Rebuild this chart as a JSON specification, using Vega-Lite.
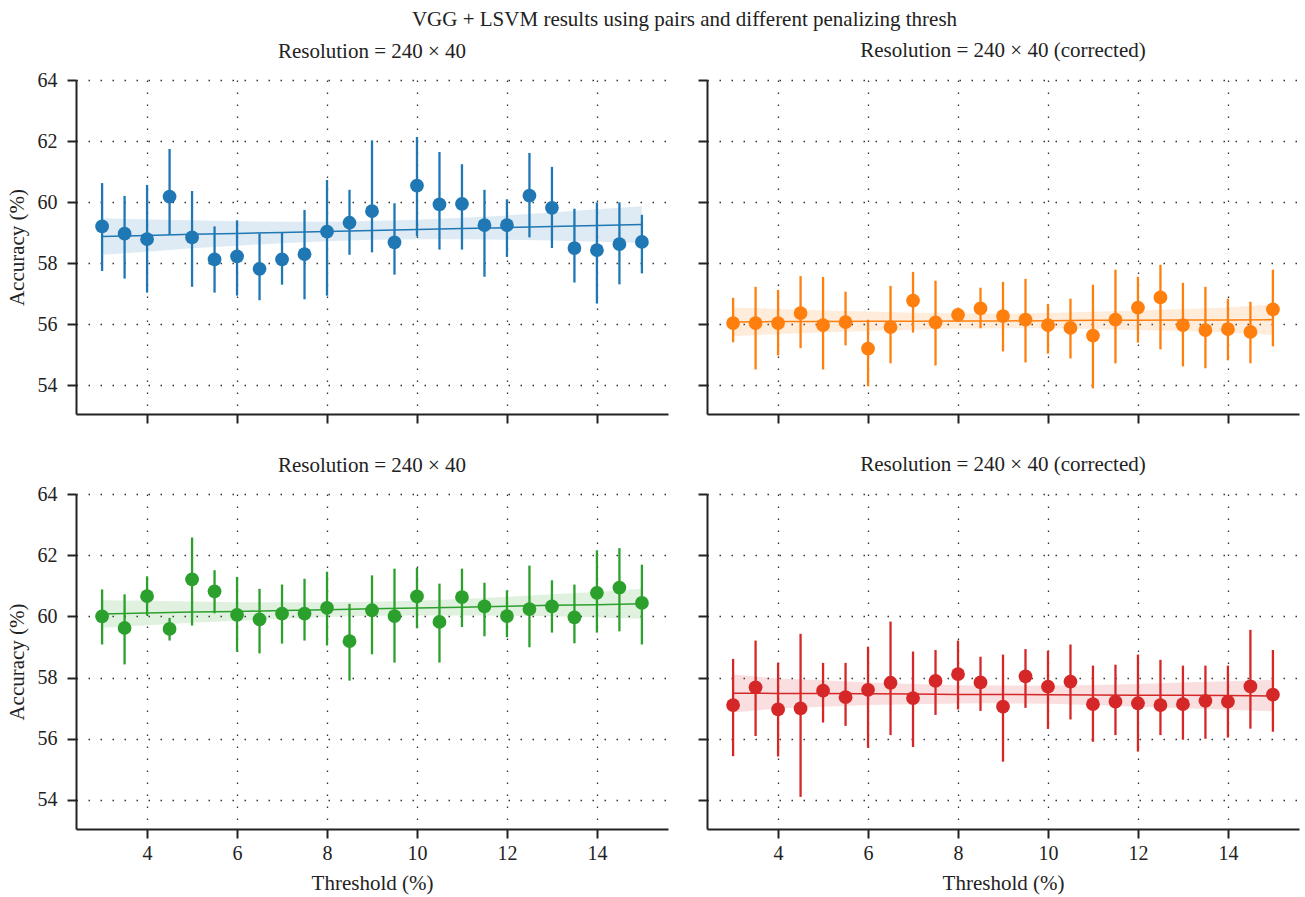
{
  "$schema": "https://vega.github.io/schema/vega-lite/v6.json",
  "padding": {"left": 6, "top": 9, "right": 5, "bottom": 5},
  "title": {"text": "VGG + LSVM results using pairs and different penalizing thresh", "fontSize": 21, "anchor": "middle", "offset": 10, "dx": 32},
  "config": {
    "font": "Liberation Serif",
    "view": {"stroke": null},
    "axis": {"domainColor": "#222", "domainWidth": 2, "tickColor": "#222", "tickWidth": 2, "tickSize": 9,
      "labelFont": "Liberation Serif", "labelFontSize": 20, "labelColor": "#222",
      "titleFont": "Liberation Serif", "titleFontSize": 21, "titleFontWeight": "normal", "titleColor": "#222", "titlePadding": 10,
      "grid": true, "gridColor": "#333", "gridDash": [1.5, 10.5], "gridWidth": 1.3},
    "axisX": {"labelPadding": 5, "titlePadding": 9},
    "axisY": {"labelPadding": 10, "titlePadding": 10},
    "title": {"font": "Liberation Serif", "fontSize": 21, "fontWeight": "normal", "color": "#222"}
  },
  "spacing": 30,
  "datasets": {
    "pts": [
      {"panel": "A", "threshold": 3, "acc": 59.20, "lo": 57.74, "hi": 60.62},
      {"panel": "A", "threshold": 3.5, "acc": 58.96, "lo": 57.49, "hi": 60.20},
      {"panel": "A", "threshold": 4, "acc": 58.78, "lo": 57.03, "hi": 60.56},
      {"panel": "A", "threshold": 4.5, "acc": 60.18, "lo": 58.92, "hi": 61.74},
      {"panel": "A", "threshold": 5, "acc": 58.84, "lo": 57.22, "hi": 60.36},
      {"panel": "A", "threshold": 5.5, "acc": 58.12, "lo": 57.03, "hi": 59.20},
      {"panel": "A", "threshold": 6, "acc": 58.22, "lo": 56.93, "hi": 59.40},
      {"panel": "A", "threshold": 6.5, "acc": 57.81, "lo": 56.78, "hi": 58.97},
      {"panel": "A", "threshold": 7, "acc": 58.12, "lo": 57.29, "hi": 59.01},
      {"panel": "A", "threshold": 7.5, "acc": 58.29, "lo": 56.81, "hi": 59.74},
      {"panel": "A", "threshold": 8, "acc": 59.03, "lo": 56.93, "hi": 60.72},
      {"panel": "A", "threshold": 8.5, "acc": 59.32, "lo": 58.27, "hi": 60.40},
      {"panel": "A", "threshold": 9, "acc": 59.70, "lo": 58.35, "hi": 62.02},
      {"panel": "A", "threshold": 9.5, "acc": 58.68, "lo": 57.62, "hi": 59.96},
      {"panel": "A", "threshold": 10, "acc": 60.54, "lo": 58.87, "hi": 62.13},
      {"panel": "A", "threshold": 10.5, "acc": 59.92, "lo": 58.44, "hi": 61.64},
      {"panel": "A", "threshold": 11, "acc": 59.94, "lo": 58.44, "hi": 61.24},
      {"panel": "A", "threshold": 11.5, "acc": 59.24, "lo": 57.55, "hi": 60.40},
      {"panel": "A", "threshold": 12, "acc": 59.24, "lo": 58.20, "hi": 60.09},
      {"panel": "A", "threshold": 12.5, "acc": 60.21, "lo": 58.84, "hi": 61.61},
      {"panel": "A", "threshold": 13, "acc": 59.81, "lo": 58.49, "hi": 61.15},
      {"panel": "A", "threshold": 13.5, "acc": 58.49, "lo": 57.36, "hi": 59.78},
      {"panel": "A", "threshold": 14, "acc": 58.42, "lo": 56.67, "hi": 59.99},
      {"panel": "A", "threshold": 14.5, "acc": 58.62, "lo": 57.30, "hi": 59.99},
      {"panel": "A", "threshold": 15, "acc": 58.69, "lo": 57.66, "hi": 59.58},
      {"panel": "B", "threshold": 3, "acc": 56.03, "lo": 55.40, "hi": 56.86},
      {"panel": "B", "threshold": 3.5, "acc": 56.03, "lo": 54.51, "hi": 57.22},
      {"panel": "B", "threshold": 4, "acc": 56.03, "lo": 54.97, "hi": 57.12},
      {"panel": "B", "threshold": 4.5, "acc": 56.36, "lo": 55.21, "hi": 57.57},
      {"panel": "B", "threshold": 5, "acc": 55.96, "lo": 54.51, "hi": 57.54},
      {"panel": "B", "threshold": 5.5, "acc": 56.06, "lo": 55.30, "hi": 57.06},
      {"panel": "B", "threshold": 6, "acc": 55.19, "lo": 53.96, "hi": 56.14},
      {"panel": "B", "threshold": 6.5, "acc": 55.90, "lo": 54.71, "hi": 57.25},
      {"panel": "B", "threshold": 7, "acc": 56.77, "lo": 55.72, "hi": 57.71},
      {"panel": "B", "threshold": 7.5, "acc": 56.05, "lo": 54.64, "hi": 57.42},
      {"panel": "B", "threshold": 8, "acc": 56.30, "lo": 56.11, "hi": 56.54},
      {"panel": "B", "threshold": 8.5, "acc": 56.51, "lo": 55.86, "hi": 57.19},
      {"panel": "B", "threshold": 9, "acc": 56.26, "lo": 55.10, "hi": 57.38},
      {"panel": "B", "threshold": 9.5, "acc": 56.14, "lo": 54.74, "hi": 57.48},
      {"panel": "B", "threshold": 10, "acc": 55.96, "lo": 55.03, "hi": 56.66},
      {"panel": "B", "threshold": 10.5, "acc": 55.87, "lo": 54.87, "hi": 56.83},
      {"panel": "B", "threshold": 11, "acc": 55.62, "lo": 53.89, "hi": 57.29},
      {"panel": "B", "threshold": 11.5, "acc": 56.14, "lo": 54.71, "hi": 57.78},
      {"panel": "B", "threshold": 12, "acc": 56.54, "lo": 55.39, "hi": 57.55},
      {"panel": "B", "threshold": 12.5, "acc": 56.87, "lo": 55.17, "hi": 57.94},
      {"panel": "B", "threshold": 13, "acc": 55.96, "lo": 54.61, "hi": 57.35},
      {"panel": "B", "threshold": 13.5, "acc": 55.80, "lo": 54.55, "hi": 57.22},
      {"panel": "B", "threshold": 14, "acc": 55.83, "lo": 54.81, "hi": 56.83},
      {"panel": "B", "threshold": 14.5, "acc": 55.74, "lo": 54.71, "hi": 56.73},
      {"panel": "B", "threshold": 15, "acc": 56.48, "lo": 55.27, "hi": 57.78},
      {"panel": "C", "threshold": 3, "acc": 60.00, "lo": 59.08, "hi": 60.88},
      {"panel": "C", "threshold": 3.5, "acc": 59.62, "lo": 58.43, "hi": 60.72},
      {"panel": "C", "threshold": 4, "acc": 60.66, "lo": 60.03, "hi": 61.31},
      {"panel": "C", "threshold": 4.5, "acc": 59.59, "lo": 59.21, "hi": 59.95},
      {"panel": "C", "threshold": 5, "acc": 61.21, "lo": 59.70, "hi": 62.58},
      {"panel": "C", "threshold": 5.5, "acc": 60.82, "lo": 60.10, "hi": 61.51},
      {"panel": "C", "threshold": 6, "acc": 60.05, "lo": 58.85, "hi": 61.29},
      {"panel": "C", "threshold": 6.5, "acc": 59.90, "lo": 58.79, "hi": 60.90},
      {"panel": "C", "threshold": 7, "acc": 60.09, "lo": 59.11, "hi": 61.04},
      {"panel": "C", "threshold": 7.5, "acc": 60.09, "lo": 59.21, "hi": 61.23},
      {"panel": "C", "threshold": 8, "acc": 60.28, "lo": 59.05, "hi": 61.46},
      {"panel": "C", "threshold": 8.5, "acc": 59.19, "lo": 57.90, "hi": 60.41},
      {"panel": "C", "threshold": 9, "acc": 60.20, "lo": 58.76, "hi": 61.34},
      {"panel": "C", "threshold": 9.5, "acc": 60.01, "lo": 58.49, "hi": 61.56},
      {"panel": "C", "threshold": 10, "acc": 60.65, "lo": 59.61, "hi": 61.59},
      {"panel": "C", "threshold": 10.5, "acc": 59.82, "lo": 58.49, "hi": 61.07},
      {"panel": "C", "threshold": 11, "acc": 60.63, "lo": 59.65, "hi": 61.56},
      {"panel": "C", "threshold": 11.5, "acc": 60.33, "lo": 59.35, "hi": 61.10},
      {"panel": "C", "threshold": 12, "acc": 60.01, "lo": 59.32, "hi": 60.85},
      {"panel": "C", "threshold": 12.5, "acc": 60.24, "lo": 58.99, "hi": 61.66},
      {"panel": "C", "threshold": 13, "acc": 60.33, "lo": 59.47, "hi": 61.18},
      {"panel": "C", "threshold": 13.5, "acc": 59.97, "lo": 59.12, "hi": 61.04},
      {"panel": "C", "threshold": 14, "acc": 60.77, "lo": 59.47, "hi": 62.16},
      {"panel": "C", "threshold": 14.5, "acc": 60.94, "lo": 59.51, "hi": 62.23},
      {"panel": "C", "threshold": 15, "acc": 60.44, "lo": 59.08, "hi": 61.69},
      {"panel": "D", "threshold": 3, "acc": 57.10, "lo": 55.43, "hi": 58.61},
      {"panel": "D", "threshold": 3.5, "acc": 57.68, "lo": 56.09, "hi": 59.21},
      {"panel": "D", "threshold": 4, "acc": 56.96, "lo": 55.42, "hi": 58.48},
      {"panel": "D", "threshold": 4.5, "acc": 56.99, "lo": 54.10, "hi": 59.43},
      {"panel": "D", "threshold": 5, "acc": 57.57, "lo": 56.53, "hi": 58.48},
      {"panel": "D", "threshold": 5.5, "acc": 57.36, "lo": 56.42, "hi": 58.48},
      {"panel": "D", "threshold": 6, "acc": 57.60, "lo": 55.71, "hi": 59.01},
      {"panel": "D", "threshold": 6.5, "acc": 57.83, "lo": 56.12, "hi": 59.83},
      {"panel": "D", "threshold": 7, "acc": 57.33, "lo": 55.73, "hi": 58.85},
      {"panel": "D", "threshold": 7.5, "acc": 57.89, "lo": 56.78, "hi": 58.90},
      {"panel": "D", "threshold": 8, "acc": 58.11, "lo": 56.96, "hi": 59.21},
      {"panel": "D", "threshold": 8.5, "acc": 57.84, "lo": 56.91, "hi": 58.68},
      {"panel": "D", "threshold": 9, "acc": 57.05, "lo": 55.25, "hi": 58.75},
      {"panel": "D", "threshold": 9.5, "acc": 58.04, "lo": 57.01, "hi": 58.93},
      {"panel": "D", "threshold": 10, "acc": 57.70, "lo": 56.32, "hi": 58.88},
      {"panel": "D", "threshold": 10.5, "acc": 57.87, "lo": 56.63, "hi": 59.08},
      {"panel": "D", "threshold": 11, "acc": 57.13, "lo": 55.90, "hi": 58.39},
      {"panel": "D", "threshold": 11.5, "acc": 57.21, "lo": 56.12, "hi": 58.42},
      {"panel": "D", "threshold": 12, "acc": 57.16, "lo": 55.58, "hi": 58.75},
      {"panel": "D", "threshold": 12.5, "acc": 57.10, "lo": 56.12, "hi": 58.58},
      {"panel": "D", "threshold": 13, "acc": 57.13, "lo": 55.97, "hi": 58.39},
      {"panel": "D", "threshold": 13.5, "acc": 57.24, "lo": 56.00, "hi": 58.39},
      {"panel": "D", "threshold": 14, "acc": 57.21, "lo": 56.04, "hi": 58.39},
      {"panel": "D", "threshold": 14.5, "acc": 57.71, "lo": 56.33, "hi": 59.56},
      {"panel": "D", "threshold": 15, "acc": 57.44, "lo": 56.23, "hi": 58.90}
    ],
    "fit": [
      {"panel": "A", "threshold": 3, "fit": 58.87, "lower": 58.27, "upper": 59.47},
      {"panel": "A", "threshold": 4, "fit": 58.90, "lower": 58.37, "upper": 59.43},
      {"panel": "A", "threshold": 5, "fit": 58.94, "lower": 58.48, "upper": 59.40},
      {"panel": "A", "threshold": 6, "fit": 58.97, "lower": 58.57, "upper": 59.37},
      {"panel": "A", "threshold": 7, "fit": 59.00, "lower": 58.65, "upper": 59.35},
      {"panel": "A", "threshold": 8, "fit": 59.03, "lower": 58.71, "upper": 59.35},
      {"panel": "A", "threshold": 9, "fit": 59.07, "lower": 58.76, "upper": 59.38},
      {"panel": "A", "threshold": 10, "fit": 59.10, "lower": 58.78, "upper": 59.42},
      {"panel": "A", "threshold": 11, "fit": 59.13, "lower": 58.78, "upper": 59.48},
      {"panel": "A", "threshold": 12, "fit": 59.16, "lower": 58.76, "upper": 59.56},
      {"panel": "A", "threshold": 13, "fit": 59.20, "lower": 58.74, "upper": 59.66},
      {"panel": "A", "threshold": 14, "fit": 59.23, "lower": 58.70, "upper": 59.76},
      {"panel": "A", "threshold": 15, "fit": 59.26, "lower": 58.66, "upper": 59.86},
      {"panel": "B", "threshold": 3, "fit": 56.07, "lower": 55.60, "upper": 56.54},
      {"panel": "B", "threshold": 4, "fit": 56.08, "lower": 55.67, "upper": 56.49},
      {"panel": "B", "threshold": 5, "fit": 56.08, "lower": 55.72, "upper": 56.44},
      {"panel": "B", "threshold": 6, "fit": 56.09, "lower": 55.77, "upper": 56.41},
      {"panel": "B", "threshold": 7, "fit": 56.09, "lower": 55.81, "upper": 56.37},
      {"panel": "B", "threshold": 8, "fit": 56.10, "lower": 55.85, "upper": 56.35},
      {"panel": "B", "threshold": 9, "fit": 56.10, "lower": 55.86, "upper": 56.34},
      {"panel": "B", "threshold": 10, "fit": 56.11, "lower": 55.86, "upper": 56.36},
      {"panel": "B", "threshold": 11, "fit": 56.12, "lower": 55.84, "upper": 56.40},
      {"panel": "B", "threshold": 12, "fit": 56.12, "lower": 55.80, "upper": 56.44},
      {"panel": "B", "threshold": 13, "fit": 56.13, "lower": 55.77, "upper": 56.49},
      {"panel": "B", "threshold": 14, "fit": 56.13, "lower": 55.72, "upper": 56.54},
      {"panel": "B", "threshold": 15, "fit": 56.14, "lower": 55.64, "upper": 56.64},
      {"panel": "C", "threshold": 3, "fit": 60.08, "lower": 59.63, "upper": 60.53},
      {"panel": "C", "threshold": 4, "fit": 60.11, "lower": 59.71, "upper": 60.51},
      {"panel": "C", "threshold": 5, "fit": 60.14, "lower": 59.79, "upper": 60.49},
      {"panel": "C", "threshold": 6, "fit": 60.16, "lower": 59.86, "upper": 60.46},
      {"panel": "C", "threshold": 7, "fit": 60.19, "lower": 59.92, "upper": 60.46},
      {"panel": "C", "threshold": 8, "fit": 60.22, "lower": 59.98, "upper": 60.46},
      {"panel": "C", "threshold": 9, "fit": 60.25, "lower": 60.02, "upper": 60.48},
      {"panel": "C", "threshold": 10, "fit": 60.27, "lower": 60.03, "upper": 60.51},
      {"panel": "C", "threshold": 11, "fit": 60.30, "lower": 60.03, "upper": 60.57},
      {"panel": "C", "threshold": 12, "fit": 60.33, "lower": 60.02, "upper": 60.64},
      {"panel": "C", "threshold": 13, "fit": 60.36, "lower": 60.00, "upper": 60.72},
      {"panel": "C", "threshold": 14, "fit": 60.38, "lower": 59.96, "upper": 60.80},
      {"panel": "C", "threshold": 15, "fit": 60.41, "lower": 59.92, "upper": 60.90},
      {"panel": "D", "threshold": 3, "fit": 57.49, "lower": 56.86, "upper": 58.10},
      {"panel": "D", "threshold": 4, "fit": 57.48, "lower": 56.99, "upper": 57.97},
      {"panel": "D", "threshold": 5, "fit": 57.48, "lower": 57.05, "upper": 57.91},
      {"panel": "D", "threshold": 6, "fit": 57.47, "lower": 57.10, "upper": 57.84},
      {"panel": "D", "threshold": 7, "fit": 57.46, "lower": 57.13, "upper": 57.79},
      {"panel": "D", "threshold": 8, "fit": 57.45, "lower": 57.15, "upper": 57.75},
      {"panel": "D", "threshold": 9, "fit": 57.45, "lower": 57.16, "upper": 57.74},
      {"panel": "D", "threshold": 10, "fit": 57.44, "lower": 57.14, "upper": 57.74},
      {"panel": "D", "threshold": 11, "fit": 57.43, "lower": 57.10, "upper": 57.76},
      {"panel": "D", "threshold": 12, "fit": 57.42, "lower": 57.05, "upper": 57.79},
      {"panel": "D", "threshold": 13, "fit": 57.42, "lower": 57.00, "upper": 57.84},
      {"panel": "D", "threshold": 14, "fit": 57.41, "lower": 56.95, "upper": 57.88},
      {"panel": "D", "threshold": 15, "fit": 57.40, "lower": 56.90, "upper": 57.92}
    ]
  },
  "vconcat": [
    {"spacing": 29, "hconcat": [
      {"width": 592, "height": 334, "title": {"text": "Resolution = 240 × 40", "offset": 8, "frame": "group"},
       "layer": [
        {"data": {"name": "fit"}, "transform": [{"filter": "datum.panel === 'A'"}], "mark": {"type": "area", "opacity": 0.15},
         "encoding": {
          "x": {"field": "threshold", "type": "quantitative", "scale": {"domain": [2.42, 15.58], "nice": false, "zero": false}, "axis": {"values": [4, 6, 8, 10, 12, 14], "labels": false, "title": null}},
          "y": {"field": "lower", "type": "quantitative", "scale": {"domain": [53.05, 64], "nice": false, "zero": false}, "axis": {"values": [54, 56, 58, 60, 62, 64], "title": "Accuracy (%)"}},
          "y2": {"field": "upper"},
          "color": {"field": "panel", "type": "nominal", "scale": {"domain": ["A", "B", "C", "D"], "range": ["#1f77b4", "#ff7f0e", "#2ca02c", "#d62728"]}, "legend": null}}},
        {"data": {"name": "fit"}, "transform": [{"filter": "datum.panel === 'A'"}], "mark": {"type": "line", "strokeWidth": 1.5},
         "encoding": {"x": {"field": "threshold", "type": "quantitative"}, "y": {"field": "fit", "type": "quantitative"}, "color": {"field": "panel", "type": "nominal", "legend": null}}},
        {"data": {"name": "pts"}, "transform": [{"filter": "datum.panel === 'A'"}], "mark": {"type": "rule", "strokeWidth": 2.3},
         "encoding": {"x": {"field": "threshold", "type": "quantitative"}, "y": {"field": "lo", "type": "quantitative"}, "y2": {"field": "hi"}, "color": {"field": "panel", "type": "nominal", "legend": null}}},
        {"data": {"name": "pts"}, "transform": [{"filter": "datum.panel === 'A'"}], "mark": {"type": "circle", "size": 190, "opacity": 1},
         "encoding": {"x": {"field": "threshold", "type": "quantitative"}, "y": {"field": "acc", "type": "quantitative"}, "color": {"field": "panel", "type": "nominal", "legend": null}}}
       ]},
      {"width": 592, "height": 334, "title": {"text": "Resolution = 240 × 40 (corrected)", "offset": 18, "frame": "group"},
       "layer": [
        {"data": {"name": "fit"}, "transform": [{"filter": "datum.panel === 'B'"}], "mark": {"type": "area", "opacity": 0.15},
         "encoding": {
          "x": {"field": "threshold", "type": "quantitative", "scale": {"domain": [2.42, 15.58], "nice": false, "zero": false}, "axis": {"values": [4, 6, 8, 10, 12, 14], "labels": false, "title": null}},
          "y": {"field": "lower", "type": "quantitative", "scale": {"domain": [53.05, 64], "nice": false, "zero": false}, "axis": {"values": [54, 56, 58, 60, 62, 64], "labels": false, "title": null}},
          "y2": {"field": "upper"},
          "color": {"field": "panel", "type": "nominal", "legend": null}}},
        {"data": {"name": "fit"}, "transform": [{"filter": "datum.panel === 'B'"}], "mark": {"type": "line", "strokeWidth": 1.5},
         "encoding": {"x": {"field": "threshold", "type": "quantitative"}, "y": {"field": "fit", "type": "quantitative"}, "color": {"field": "panel", "type": "nominal", "legend": null}}},
        {"data": {"name": "pts"}, "transform": [{"filter": "datum.panel === 'B'"}], "mark": {"type": "rule", "strokeWidth": 2.3},
         "encoding": {"x": {"field": "threshold", "type": "quantitative"}, "y": {"field": "lo", "type": "quantitative"}, "y2": {"field": "hi"}, "color": {"field": "panel", "type": "nominal", "legend": null}}},
        {"data": {"name": "pts"}, "transform": [{"filter": "datum.panel === 'B'"}], "mark": {"type": "circle", "size": 190, "opacity": 1},
         "encoding": {"x": {"field": "threshold", "type": "quantitative"}, "y": {"field": "acc", "type": "quantitative"}, "color": {"field": "panel", "type": "nominal", "legend": null}}}
       ]}
    ]},
    {"spacing": 29, "hconcat": [
      {"width": 592, "height": 335, "title": {"text": "Resolution = 240 × 40", "offset": 8, "frame": "group"},
       "layer": [
        {"data": {"name": "fit"}, "transform": [{"filter": "datum.panel === 'C'"}], "mark": {"type": "area", "opacity": 0.15},
         "encoding": {
          "x": {"field": "threshold", "type": "quantitative", "scale": {"domain": [2.42, 15.58], "nice": false, "zero": false}, "axis": {"values": [4, 6, 8, 10, 12, 14], "title": "Threshold (%)"}},
          "y": {"field": "lower", "type": "quantitative", "scale": {"domain": [53.05, 64], "nice": false, "zero": false}, "axis": {"values": [54, 56, 58, 60, 62, 64], "title": "Accuracy (%)"}},
          "y2": {"field": "upper"},
          "color": {"field": "panel", "type": "nominal", "legend": null}}},
        {"data": {"name": "fit"}, "transform": [{"filter": "datum.panel === 'C'"}], "mark": {"type": "line", "strokeWidth": 1.5},
         "encoding": {"x": {"field": "threshold", "type": "quantitative"}, "y": {"field": "fit", "type": "quantitative"}, "color": {"field": "panel", "type": "nominal", "legend": null}}},
        {"data": {"name": "pts"}, "transform": [{"filter": "datum.panel === 'C'"}], "mark": {"type": "rule", "strokeWidth": 2.3},
         "encoding": {"x": {"field": "threshold", "type": "quantitative"}, "y": {"field": "lo", "type": "quantitative"}, "y2": {"field": "hi"}, "color": {"field": "panel", "type": "nominal", "legend": null}}},
        {"data": {"name": "pts"}, "transform": [{"filter": "datum.panel === 'C'"}], "mark": {"type": "circle", "size": 190, "opacity": 1},
         "encoding": {"x": {"field": "threshold", "type": "quantitative"}, "y": {"field": "acc", "type": "quantitative"}, "color": {"field": "panel", "type": "nominal", "legend": null}}}
       ]},
      {"width": 592, "height": 335, "title": {"text": "Resolution = 240 × 40 (corrected)", "offset": 18, "frame": "group"},
       "layer": [
        {"data": {"name": "fit"}, "transform": [{"filter": "datum.panel === 'D'"}], "mark": {"type": "area", "opacity": 0.15},
         "encoding": {
          "x": {"field": "threshold", "type": "quantitative", "scale": {"domain": [2.42, 15.58], "nice": false, "zero": false}, "axis": {"values": [4, 6, 8, 10, 12, 14], "title": "Threshold (%)"}},
          "y": {"field": "lower", "type": "quantitative", "scale": {"domain": [53.05, 64], "nice": false, "zero": false}, "axis": {"values": [54, 56, 58, 60, 62, 64], "labels": false, "title": null}},
          "y2": {"field": "upper"},
          "color": {"field": "panel", "type": "nominal", "legend": null}}},
        {"data": {"name": "fit"}, "transform": [{"filter": "datum.panel === 'D'"}], "mark": {"type": "line", "strokeWidth": 1.5},
         "encoding": {"x": {"field": "threshold", "type": "quantitative"}, "y": {"field": "fit", "type": "quantitative"}, "color": {"field": "panel", "type": "nominal", "legend": null}}},
        {"data": {"name": "pts"}, "transform": [{"filter": "datum.panel === 'D'"}], "mark": {"type": "rule", "strokeWidth": 2.3},
         "encoding": {"x": {"field": "threshold", "type": "quantitative"}, "y": {"field": "lo", "type": "quantitative"}, "y2": {"field": "hi"}, "color": {"field": "panel", "type": "nominal", "legend": null}}},
        {"data": {"name": "pts"}, "transform": [{"filter": "datum.panel === 'D'"}], "mark": {"type": "circle", "size": 190, "opacity": 1},
         "encoding": {"x": {"field": "threshold", "type": "quantitative"}, "y": {"field": "acc", "type": "quantitative"}, "color": {"field": "panel", "type": "nominal", "legend": null}}}
       ]}
    ]}
  ]
}
